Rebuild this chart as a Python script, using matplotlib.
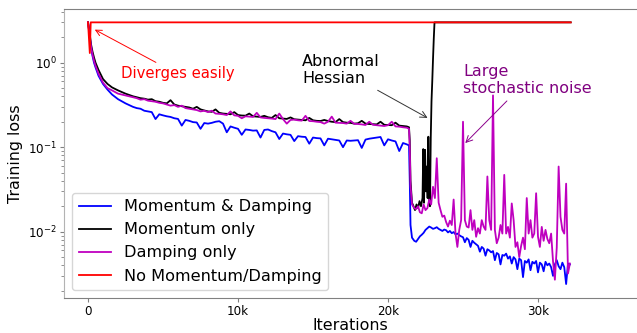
import numpy as np
import matplotlib
matplotlib.use('Agg')
import matplotlib.pyplot as plt

x_early = [0, 100, 200, 300, 400, 500, 700, 1000, 1300, 1600, 2000, 2500]
x_mid = list(range(3000, 21251, 250))
x_drop = [21400, 21450, 21500, 21600]
x_late = list(range(21750, 32126, 125))

blue_early = [3.0, 2.1, 1.5, 1.2, 1.0, 0.88, 0.70, 0.56, 0.48, 0.42, 0.37, 0.33]
blue_mid = [0.30, 0.29, 0.285, 0.27,
            0.265, 0.26, 0.215, 0.245,
            0.238, 0.232, 0.228, 0.22,
            0.216, 0.18, 0.21, 0.205,
            0.198, 0.196, 0.165, 0.193,
            0.19, 0.194, 0.20, 0.203,
            0.19, 0.15, 0.176, 0.17,
            0.165, 0.14, 0.162, 0.16,
            0.157, 0.158, 0.13, 0.16,
            0.162, 0.155, 0.15, 0.125,
            0.145, 0.142, 0.14, 0.118,
            0.135, 0.133, 0.132, 0.11,
            0.13, 0.128, 0.127, 0.105,
            0.126, 0.124, 0.122, 0.12,
            0.10, 0.12, 0.119, 0.12,
            0.121, 0.098, 0.123, 0.126,
            0.128, 0.13, 0.132, 0.105,
            0.124, 0.12, 0.117, 0.09,
            0.112, 0.108]
blue_drop = [0.105, 0.04, 0.012, 0.0085]
blue_late = [0.0078, 0.0076, 0.0082, 0.0088, 0.0092, 0.0097, 0.0105, 0.011,
             0.0115, 0.0112, 0.0108, 0.011, 0.0113, 0.0108, 0.0105, 0.0102,
             0.0106, 0.0104, 0.0098, 0.0102, 0.0096, 0.0099, 0.0093, 0.0095,
             0.0091, 0.0088, 0.0086, 0.0075, 0.0084, 0.0080, 0.0066, 0.0078,
             0.0074, 0.0071, 0.0068, 0.0058, 0.0066, 0.0063, 0.0052, 0.0062,
             0.006, 0.0057, 0.0059, 0.0046, 0.0056, 0.0054, 0.0041, 0.0053,
             0.0052, 0.0055, 0.0048, 0.0051, 0.0042, 0.005, 0.0047, 0.0036,
             0.0048, 0.0046, 0.0029, 0.0045, 0.0043, 0.0047, 0.0035, 0.0044,
             0.0042, 0.0045, 0.0033, 0.0043, 0.0041, 0.0034, 0.0044, 0.004,
             0.0042, 0.0038, 0.003, 0.0041, 0.0046, 0.0039, 0.0036, 0.0043,
             0.0038, 0.0024, 0.0042, 0.0041]

black_early = [3.0, 2.3, 1.65, 1.35, 1.15, 1.0, 0.82, 0.64, 0.56, 0.51, 0.47, 0.43]
black_mid = [0.40, 0.39, 0.38, 0.375,
             0.365, 0.37, 0.35, 0.345,
             0.335, 0.33, 0.36, 0.32,
             0.31, 0.305, 0.30, 0.295,
             0.285, 0.30, 0.28, 0.272,
             0.265, 0.262, 0.28, 0.255,
             0.25, 0.248, 0.245, 0.26,
             0.24, 0.237, 0.236, 0.25,
             0.232, 0.23, 0.228, 0.235,
             0.226, 0.222, 0.24, 0.22,
             0.218, 0.216, 0.225, 0.214,
             0.212, 0.21, 0.208, 0.222,
             0.208, 0.205, 0.204, 0.21,
             0.204, 0.2, 0.198, 0.215,
             0.198, 0.195, 0.194, 0.19,
             0.192, 0.205, 0.19, 0.188,
             0.187, 0.186, 0.2, 0.184,
             0.183, 0.182, 0.195, 0.18,
             0.178, 0.176]
black_drop = [0.172, 0.12, 0.04, 0.022]
x_black_late = [21700, 21800, 21900, 22000, 22100, 22200, 22300, 22350, 22400,
                22470, 22530, 22580, 22640, 22690, 22750, 22800, 22850, 22900,
                22950, 23000, 23050, 23100, 32180]
black_late = [0.02, 0.018, 0.021, 0.019, 0.023, 0.02, 0.025, 0.095, 0.022,
              0.093, 0.03, 0.059, 0.025, 0.133, 0.022, 0.02, 0.13, 0.35,
              0.6, 1.1, 1.9, 3.0, 3.0]

mag_early = [3.0, 2.2, 1.55, 1.25, 1.05, 0.92, 0.74, 0.58, 0.50, 0.47, 0.43, 0.41]
mag_mid = [0.39, 0.38, 0.365, 0.37,
           0.355, 0.35, 0.345, 0.335,
           0.33, 0.32, 0.31, 0.315,
           0.30, 0.31, 0.29, 0.285,
           0.28, 0.275, 0.265, 0.27,
           0.26, 0.27, 0.25, 0.248,
           0.245, 0.24, 0.265, 0.238,
           0.235, 0.22, 0.232, 0.23,
           0.228, 0.255, 0.225, 0.222,
           0.22, 0.218, 0.215, 0.25,
           0.215, 0.19, 0.21, 0.212,
           0.208, 0.206, 0.235, 0.204,
           0.203, 0.2, 0.198, 0.19,
           0.2, 0.23, 0.195, 0.194,
           0.193, 0.19, 0.205, 0.189,
           0.188, 0.186, 0.183, 0.2,
           0.184, 0.182, 0.18, 0.178,
           0.182, 0.2, 0.176, 0.175,
           0.172, 0.17]
mag_drop = [0.165, 0.1, 0.035, 0.021]
mag_late = [0.019, 0.0185, 0.02, 0.017, 0.0165, 0.021, 0.018, 0.019,
            0.024, 0.021, 0.034, 0.025, 0.074, 0.022, 0.018, 0.015,
            0.0155, 0.013, 0.0115, 0.0135, 0.012, 0.024, 0.0095, 0.0066,
            0.0105, 0.0137, 0.20, 0.0137, 0.0115, 0.0112, 0.018, 0.0105,
            0.0137, 0.0087, 0.011, 0.0095, 0.0137, 0.0115, 0.0105, 0.045,
            0.0137, 0.0105, 0.41, 0.0105, 0.0073, 0.0085, 0.012, 0.0095,
            0.047, 0.0095, 0.0114, 0.0085, 0.0216, 0.0137, 0.0066, 0.0075,
            0.005, 0.0068, 0.0085, 0.0062, 0.025, 0.0095, 0.0137, 0.0085,
            0.0095, 0.0285, 0.0087, 0.0066, 0.0114, 0.0078, 0.0105, 0.0082,
            0.0073, 0.0095, 0.0045, 0.0027, 0.0065, 0.059, 0.015, 0.0105,
            0.0095, 0.037, 0.0032, 0.0042]

x_red = [0, 120, 180, 32180]
red_loss = [3.0, 1.3, 3.0, 3.0]

labels = ['Momentum & Damping', 'Momentum only', 'Damping only', 'No Momentum/Damping']

x_blue = x_early + x_mid + x_drop + x_late
y_blue = blue_early + blue_mid + blue_drop + blue_late
x_black = x_early + x_mid + x_drop + x_black_late
y_black = black_early + black_mid + black_drop + black_late
x_mag = x_early + x_mid + x_drop + x_late
y_mag = mag_early + mag_mid + mag_drop + mag_late

fig = plt.figure(figsize=(6.37, 3.33), dpi=100)
ax = fig.add_axes([0.1005, 0.105, 0.8995, 0.8665])

ax.plot(x_blue, y_blue, color='blue', lw=1.3, label=labels[0])
ax.plot(x_black, y_black, color='black', lw=1.3, label=labels[1])
ax.plot(x_mag, y_mag, color='m', lw=1.3, label=labels[2])
ax.plot(x_red, red_loss, color='red', lw=1.3, label=labels[3])

ax.set_yscale('log')
ax.set_xlim(-1600, 36600)
ax.set_ylim(0.00164, 4.26)
ax.set_xticks([0, 10000, 20000, 30000])
ax.set_xticklabels(['0', '10k', '20k', '30k'])

ax.spines['right'].set_visible(False)
ax.spines['top'].set_color('0.5')
ax.spines['bottom'].set_color('0.5')
ax.spines['left'].set_color('0.7')
ax.tick_params(axis='both', which='both', colors='0.5', labelcolor='black',
               labelsize=8.6, pad=2)
ax.tick_params(axis='both', which='major', length=3)

ax.set_xlabel('Iterations', fontsize=11.4, labelpad=0)
ax.set_ylabel('Training loss', fontsize=11.4)

ax.annotate('Diverges easily', xy=(287, 2.55), xytext=(2180, 0.735),
            color='red', fontsize=10.7, ha='left', va='center',
            arrowprops=dict(arrowstyle='->', color='red', lw=0.7))
ax.annotate('Abnormal\nHessian', xy=(22800, 0.214), xytext=(14270, 0.82),
            color='black', fontsize=11.5, ha='left', va='center',
            arrowprops=dict(arrowstyle='->', color='0.2', lw=0.7))
ax.annotate('Large\nstochastic noise', xy=(25020, 0.106), xytext=(25020, 0.624),
            color='purple', fontsize=11.5, ha='left', va='center',
            arrowprops=dict(arrowstyle='->', color='darkmagenta', lw=0.7))

ax.legend(loc='lower left', fontsize=11.6)

fig.savefig('out.png', dpi=100)
